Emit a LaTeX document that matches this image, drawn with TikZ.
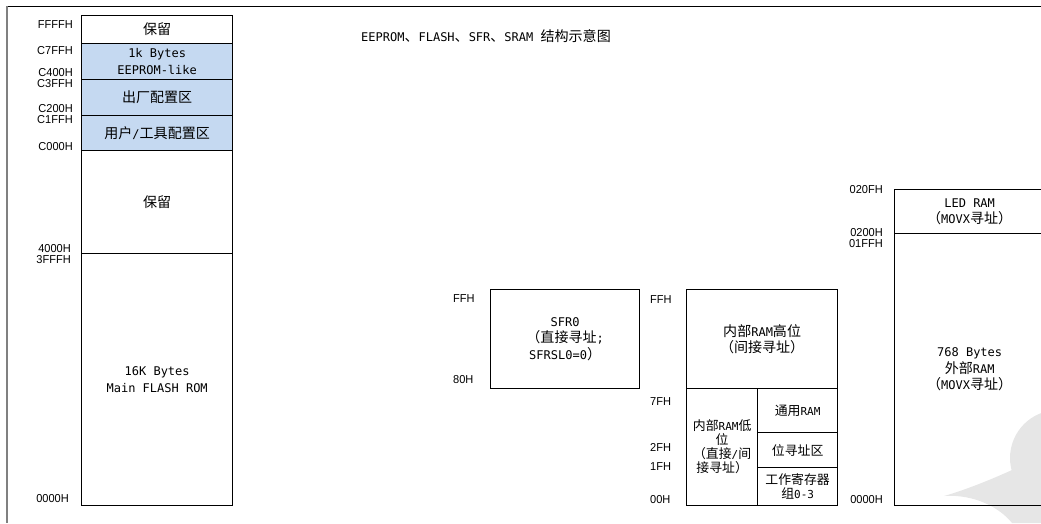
\documentclass[tikz,border=0pt]{standalone}
\usepackage{fontspec}
\setmainfont{DejaVu Sans Mono}
\newfontfamily\cjkf{Noto Sans CJK SC}[Scale=1.17]
\newfontfamily\hexf{Liberation Sans}[FakeStretch=0.96]
\newcommand\zh[1]{{\cjkf #1}}
\definecolor{cellblue}{RGB}{197,217,241}
\definecolor{wmgray}{RGB}{230,230,230}
\tikzset{
  box/.style={draw, line width=1.3pt, inner sep=0pt, anchor=north west, align=center,
              font=\fontsize{12}{16.5}\selectfont},
  bluecell/.style={fill=cellblue},
  addrR/.style={anchor=base east, inner sep=0pt, font=\hexf\fontsize{11.5}{13}\selectfont},
  addrL/.style={anchor=base west, inner sep=0pt, font=\hexf\fontsize{11.5}{13}\selectfont},
}
\begin{document}
\begin{tikzpicture}[x=1pt,y=-1pt]
\useasboundingbox (0,0) rectangle (1041,523);
% watermark
\fill[wmgray] (1058,458) circle (48pt);
\fill[wmgray] (944,496) .. controls (975,494) and (1000,508) .. (1012,523) -- (1041,523) -- (1041,470) -- (1012,470) .. controls (990,480) and (965,490) .. cycle;
% frame
\draw[line width=1pt] (7,6) -- (1041,6);
\draw[gray, line width=1.5pt] (7,6) -- (7,523);
% title
\node[anchor=base west, inner sep=0pt, font=\fontsize{12}{14}\selectfont] (title) at (361,41)
  {EEPROM\zh{、}FLASH\zh{、}SFR\zh{、}SRAM \zh{结构示意图}};
% left column
\node[box, minimum width=151pt, minimum height=28pt] (r1) at (81,15) {\zh{保留}};
\node[box, bluecell, minimum width=151pt, minimum height=36pt] (r2) at (81,43) {1k Bytes\\EEPROM-like};
\node[box, bluecell, minimum width=151pt, minimum height=36pt] (r3) at (81,79) {\zh{出厂配置区}};
\node[box, bluecell, minimum width=151pt, minimum height=35pt] (r4) at (81,115) {\zh{用户}/\zh{工具配置区}};
\node[box, minimum width=151pt, minimum height=103pt] (r5) at (81,150) {\zh{保留}};
\node[box, minimum width=151pt, minimum height=252pt] (r6) at (81,253) {16K Bytes\\Main FLASH ROM};
\node[addrR] (a1) at (73,28) {FFFFH};
\node[addrR] (a2) at (73,54) {C7FFH};
\node[addrR] (a3) at (73,76.5) {C400H};
\node[addrR] (a4) at (73,87) {C3FFH};
\node[addrR] (a5) at (73,112.5) {C200H};
\node[addrR] (a6) at (73,123) {C1FFH};
\node[addrR] (a7) at (73,150) {C000H};
\node[addrR] (a8) at (71,252.5) {4000H};
\node[addrR] (a9) at (71,263) {3FFFH};
\node[addrR] (a10) at (69,502) {0000H};
% SFR
\node[box, minimum width=149pt, minimum height=99pt] (sfr) at (490,289) {SFR0\\\zh{（直接寻址}{;}\\SFRSL0=0\zh{）}};
\node[addrL] (s1) at (453,302) {FFH};
\node[addrL] (s2) at (453,383) {80H};
% internal RAM
\node[box, minimum width=151pt, minimum height=99pt] (hi) at (686,289) {\zh{内部}RAM\zh{高位}\\\zh{（间接寻址）}};
\node[box, minimum width=71pt, minimum height=117pt, font=\fontsize{11}{14}\selectfont] (lo) at (686,388)
  {\zh{内部}RAM\zh{低}\\\zh{位}\\\zh{（直接}/\zh{间}\\\zh{接寻址）}};
\node[box, minimum width=80pt, minimum height=44pt, font=\fontsize{11}{14}\selectfont] (gen) at (757,388) {\zh{通用}RAM};
\node[box, minimum width=80pt, minimum height=35pt, font=\fontsize{11}{14}\selectfont] (bit) at (757,432) {\zh{位寻址区}};
\node[box, minimum width=80pt, minimum height=38pt, font=\fontsize{11}{14}\selectfont] (reg) at (757,467) {\zh{工作寄存器}\\\zh{组}0-3};
\node[addrL] (i1) at (650,303) {FFH};
\node[addrL] (i2) at (650,405) {7FH};
\node[addrL] (i3) at (650,451) {2FH};
\node[addrL] (i4) at (650,470) {1FH};
\node[addrL] (i5) at (650,503) {00H};
% external RAM
\node[box, minimum width=150pt, minimum height=44pt] (led) at (894,189) {LED RAM\\\zh{（}MOVX\zh{寻址）}};
\node[box, minimum width=150pt, minimum height=272pt] (ext) at (894,233) {768 Bytes\\\zh{外部}RAM\\\zh{（}MOVX\zh{寻址）}};
\node[addrR] (e1) at (883,193) {020FH};
\node[addrR] (e2) at (883,236.5) {0200H};
\node[addrR] (e3) at (883,247) {01FFH};
\node[addrR] (e4) at (883,503) {0000H};
\end{tikzpicture}
\end{document}
